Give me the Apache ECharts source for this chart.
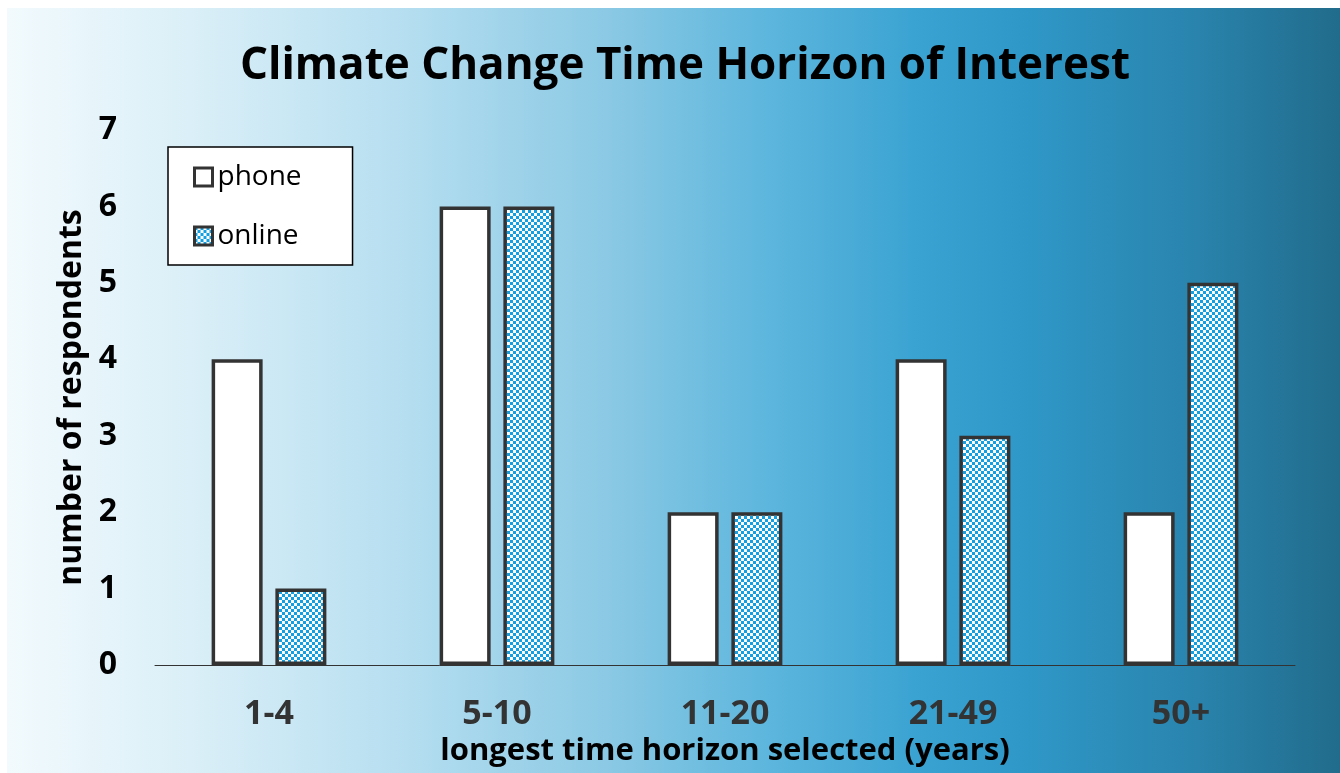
<!DOCTYPE html>
<html>
<head>
<meta charset="utf-8">
<script src="https://cdn.jsdelivr.net/npm/echarts@6/dist/echarts.min.js"></script>
<style>
html,body{margin:0;padding:0;background:#fff;}
#bg{position:absolute;left:7px;top:8px;right:0;bottom:0;
background:linear-gradient(to right,#f2fafd 0%,#d8eef7 15%,#b5def0 30%,#8bc9e4 45%,#5db6dd 57%,#3ba3d2 68%,#2f98c8 76%,#2a86b0 88%,#216c8c 100%);}
#chart{position:absolute;left:0;top:0;width:1340px;height:773px;}
</style>
</head>
<body>
<div id="bg"></div>
<div id="chart"></div>
<script>
var categories = ['1-4','5-10','11-20','21-49','50+'];
var phoneValues = [4, 6, 2, 4, 2];
var onlineValues = [1, 6, 2, 3, 5];
var yTicks = [0,1,2,3,4,5,6,7];

var pc = document.createElement('canvas');
pc.width = 6; pc.height = 6;
var ctx = pc.getContext('2d');
ctx.fillStyle = '#ffffff'; ctx.fillRect(0,0,6,6);
ctx.fillStyle = '#12a0e2';
ctx.fillRect(0,0,3,3); ctx.fillRect(3,3,3,3);

var font = 'Open Sans';
var chart = echarts.init(document.getElementById('chart'), null, {renderer:'canvas'});
chart.setOption({
  backgroundColor: 'transparent',
  animation: false,
  title: {
    text: 'Climate Change Time Horizon of Interest',
    left: 680, top: 39, textAlign: 'center',
    textStyle: {fontFamily: font, fontWeight: 'bold', fontSize: 44, color: '#000'}
  },
  legend: {
    orient: 'vertical', left: 168, top: 147,
    backgroundColor: '#fff', borderColor: '#000', borderWidth: 1.5,
    padding: [15, 51, 14, 25], itemGap: 29,
    itemWidth: 18, itemHeight: 18, icon: 'rect',
    itemStyle: {borderColor: '#333', borderWidth: 3},
    textStyle: {fontFamily: font, fontSize: 28, color: '#000', lineHeight: 30},
    data: ['phone','online']
  },
  grid: {left: 155, right: 45, top: 130, bottom: 108, containLabel: false, outerBoundsMode: 'none'},
  xAxis: {
    type: 'category', data: categories,
    name: 'longest time horizon selected (years)', nameLocation: 'middle', nameGap: 66,
    nameTextStyle: {fontFamily: font, fontWeight: 'bold', fontSize: 31, color: '#000'},
    axisLine: {lineStyle: {color: '#333', width: 1}},
    axisTick: {show: false},
    axisLabel: {fontFamily: font, fontWeight: 'bold', fontSize: 34, color: '#333', margin: 32}
  },
  yAxis: {
    type: 'value', min: 0, max: 7, interval: 1,
    name: 'number of respondents', nameLocation: 'middle', nameGap: 64,
    nameTextStyle: {fontFamily: font, fontWeight: 'bold', fontSize: 32, color: '#000'},
    axisLine: {show: false}, axisTick: {show: false}, splitLine: {show: false},
    axisLabel: {fontFamily: font, fontWeight: 'bold', fontSize: 32, color: '#000', margin: 38,
      formatter: function(v){ return yTicks.indexOf(v) >= 0 ? String(v) : ''; }}
  },
  series: [
    {name: 'phone', type: 'bar', data: phoneValues, barWidth: 51, barGap: '25%',
     itemStyle: {color: '#ffffff', borderColor: '#333', borderWidth: 3.5}},
    {name: 'online', type: 'bar', data: onlineValues, barWidth: 51,
     itemStyle: {color: {image: pc, repeat: 'repeat'}, borderColor: '#333', borderWidth: 3.5}}
  ]
});
</script>
</body>
</html>
